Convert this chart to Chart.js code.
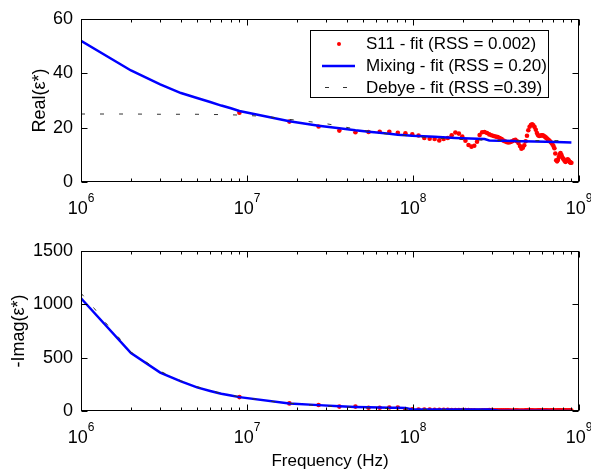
<!DOCTYPE html>
<html>
<head>
<meta charset="utf-8">
<script src="https://cdn.jsdelivr.net/npm/chart.js@4.4.0/dist/chart.umd.min.js"></script>
<style>
  html, body { margin: 0; padding: 0; background: #fff; }
  #wrap { position: relative; width: 591px; height: 474px; }
  canvas { position: absolute; left: 0; }
  #realChart { top: 0; }
  #imagChart { top: 232px; }
</style>
</head>
<body>
<div id="wrap">
  <canvas id="realChart" width="591" height="232"></canvas>
  <canvas id="imagChart" width="591" height="242"></canvas>
</div>
<script>
const FONT = '"Liberation Sans", Arial, sans-serif';

// measured S11 points, frequency in MHz
const s11FreqMHz = [9,18,27,36,45,54,63,72,81,90,99,108,117,126,135,144,153,162,171,180,
  189,198,207,216,225,234,243,252,261,270,279,288,297,306,315,324,333,342,351,360,
  369,378,387,396,405,414,423,432,441,450,459,468,477,486,495,504,513,522,531,540,
  549,558,567,576,585,594,603,612,621,630,639,648,657,666,675,684,693,702,711,720,
  729,738,747,756,765,774,783,792,801,810,819,828,837,846,855,864,873,882,891,900];
const s11Real = [25.5,22.2,20.4,18.9,18.3,18.4,18.5,18.5,18.1,17.9,17.5,17.1,16.2,15.9,15.8,15.3,15.8,16.2,17.2,18.2,
  17.8,16.7,15.2,13.6,13.0,13.3,14.8,17.3,18.3,18.4,18.0,17.5,17.2,16.9,16.7,16.5,16.2,15.8,15.2,14.9,
  14.6,14.5,14.7,15.0,15.3,15.5,15.0,14.3,13.2,12.2,12.6,13.5,15.0,17.0,19.0,20.3,20.9,21.2,20.8,20.2,
  19.2,18.0,17.2,16.9,17.0,17.2,17.2,17.0,16.7,16.4,16.1,15.7,15.4,15.1,14.7,14.3,13.8,13.2,12.4,10.5,
  8.0,7.6,8.2,9.2,10.2,10.6,10.0,9.2,8.6,8.3,7.8,7.4,7.6,8.0,8.3,8.1,7.6,7.3,7.1,7.1];
const s11Imag = [130,71,56,41,41,30,30,33,33,18,15,14,13,13,12,12,11,11,10,10,
  10,9,9,8,7,6,5,5,6,7,7,8,8,7,7,6,6,6,6,6,
  6,6,5,5,5,6,6,5,5,5,5,5,6,7,8,8,7,6,5,5,
  5,5,6,6,6,5,5,5,6,6,6,5,5,5,5,6,6,6,5,5,
  5,5,6,6,6,5,5,5,5,6,6,6,5,5,5,5,5,6,6,5];

// mixing model fit
const mixFreqMHz = [1,2,3,4,5,6,7,8,9,18,27,36,45,54,63,72,81,90,99,135,180,270,288,330,360,450,540,630,720,810,900];
const mixReal = [51.9,41.0,35.9,32.7,30.9,29.4,28.1,27.1,26.1,22.3,20.7,19.8,19.0,18.5,18.1,17.7,17.4,17.2,17.0,16.6,16.2,15.8,15.3,15.2,15.2,15.0,14.9,14.8,14.7,14.6,14.5];
const mixImag = [1056,542,359,277,221,188,162,145,130,71,55,45,38,34,32,31,30,29,15,14,14,13,13,3,3,2,2,2,1,1,1];

// Debye model fit
const debyeFreqMHz = [1,1.2,1.4,1.7,2,3,4,5,6,7,8,9,13,17,22,29,38,50,66,85,110,150,200,300,450,600,900];
const debyeReal = [25.0,25.0,25.0,25.0,25.0,24.9,24.9,24.9,24.8,24.8,24.7,24.6,24.1,23.2,22.4,21.6,20.3,19.0,17.8,17.2,16.6,16.0,15.6,15.3,15.2,15.2,15.2];
const debyeImag = [1103,962,830,683,551,372,282,228,192,165,147,133,95,76,60,47,38,30,24,20,16,12,9,6,4,3,2];

const xDecades = [6, 7, 8, 9];
const realTicks = [0, 20, 40, 60];
const imagTicks = [0, 500, 1000, 1500];
const legendLabels = ['S11 - fit (RSS = 0.002)', 'Mixing - fit (RSS = 0.20)', 'Debye - fit (RSS =0.39)'];

function toPoints(freqs, vals) {
    return freqs.map((f, i) => ({ x: f * 1e6, y: vals[i] }));
}

// matlab style box, inward ticks and 10^n labels
const framePlugin = {
    id: 'frame',
    afterDatasetsDraw(chart) {
        const { ctx, chartArea: a } = chart;
        const xs = chart.scales.x, ys = chart.scales.y;
        const L = Math.round(a.left) + 0.5, R = Math.round(a.right) - 0.5;
        const T = Math.round(a.top) + 0.5, B = Math.round(a.bottom) - 0.5;
        ctx.save();
        ctx.strokeStyle = '#000';
        ctx.lineWidth = 1;
        ctx.strokeRect(L, T, R - L, B - T);
        ctx.beginPath();
        for (let e = 6; e <= 9; e++) {
            for (let m = 1; m <= 9; m++) {
                const v = m * Math.pow(10, e);
                if (v > 1e9) break;
                const px = Math.round(xs.getPixelForValue(v)) + 0.5;
                const len = m === 1 ? 6 : 3;
                ctx.moveTo(px, B); ctx.lineTo(px, B - len);
                ctx.moveTo(px, T); ctx.lineTo(px, T + len);
            }
        }
        ys.ticks.forEach(t => {
            const py = Math.round(ys.getPixelForValue(t.value)) + 0.5;
            ctx.moveTo(L, py); ctx.lineTo(L + 6, py);
            ctx.moveTo(R, py); ctx.lineTo(R - 6, py);
        });
        ctx.stroke();

        ctx.fillStyle = '#000';
        ctx.textAlign = 'left';
        ctx.textBaseline = 'alphabetic';
        const base = a.bottom + 31.5;
        xDecades.forEach(e => {
            const px = xs.getPixelForValue(Math.pow(10, e));
            ctx.font = '18px ' + FONT;
            const wb = ctx.measureText('10').width;
            ctx.font = '12px ' + FONT;
            const we = ctx.measureText(String(e)).width;
            const x0 = px - (wb + we) / 2;
            ctx.font = '18px ' + FONT;
            ctx.fillText('10', x0, base);
            ctx.font = '12px ' + FONT;
            ctx.fillText(String(e), x0 + wb, base - 12);
        });
        ctx.restore();
    }
};

const legendPlugin = {
    id: 'boxLegend',
    afterDraw(chart) {
        const ctx = chart.ctx;
        ctx.save();
        ctx.fillStyle = '#fff';
        ctx.fillRect(310, 30, 239, 68);
        ctx.strokeStyle = '#000';
        ctx.lineWidth = 1;
        ctx.strokeRect(310.5, 30.5, 238, 67);

        // S11 dot
        ctx.fillStyle = '#ff0000';
        ctx.beginPath();
        ctx.arc(339, 44, 2, 0, Math.PI * 2);
        ctx.fill();
        // mixing line
        ctx.strokeStyle = '#0000ff';
        ctx.lineWidth = 2.5;
        ctx.beginPath();
        ctx.moveTo(322, 66); ctx.lineTo(355, 66);
        ctx.stroke();
        // debye dashes
        ctx.strokeStyle = '#333';
        ctx.lineWidth = 1;
        ctx.beginPath();
        ctx.moveTo(325, 87.5); ctx.lineTo(329, 87.5);
        ctx.moveTo(343, 87.5); ctx.lineTo(347, 87.5);
        ctx.stroke();

        ctx.fillStyle = '#000';
        ctx.font = '17px ' + FONT;
        ctx.textAlign = 'left';
        ctx.textBaseline = 'middle';
        ctx.fillText(legendLabels[0], 366, 44);
        ctx.fillText(legendLabels[1], 366, 66);
        ctx.fillText(legendLabels[2], 366, 88);
        ctx.restore();
    }
};

function buildChart(canvasId, s11Vals, mixVals, debyeVals, yTicks, yTitle, cfg) {
    const ctx = document.getElementById(canvasId);
    return new Chart(ctx, {
        type: 'scatter',
        data: {
            datasets: [{
                label: legendLabels[0],
                data: toPoints(s11FreqMHz, s11Vals),
                showLine: false,
                pointRadius: 2.3,
                pointBackgroundColor: '#ff0000',
                pointBorderWidth: 0,
                order: 3
            }, {
                label: legendLabels[1],
                data: toPoints(mixFreqMHz, mixVals),
                showLine: true,
                borderColor: '#0000ff',
                borderWidth: 2.5,
                pointRadius: 0,
                order: 2
            }, {
                label: legendLabels[2],
                data: toPoints(debyeFreqMHz, debyeVals),
                showLine: true,
                borderColor: '#333',
                borderWidth: 1,
                borderDash: [4, 15],
                pointRadius: 0,
                order: 1
            }]
        },
        options: {
            responsive: false,
            animation: false,
            layout: {
                padding: { left: 0, right: 12, top: cfg.padTop, bottom: 0 }
            },
            plugins: {
                legend: { display: false },
                tooltip: { enabled: false }
            },
            scales: {
                x: {
                    type: 'logarithmic',
                    min: 1e6,
                    max: 1e9,
                    ticks: { display: false },
                    grid: { display: false, drawTicks: false },
                    border: { display: false },
                    title: {
                        display: !!cfg.xTitle,
                        text: cfg.xTitle || '',
                        color: '#000',
                        font: { size: 17, family: FONT },
                        padding: { top: 0, bottom: 2 }
                    },
                    afterFit: function(scale) {
                        scale.height = cfg.xHeight;
                    }
                },
                y: {
                    min: yTicks[0],
                    max: yTicks[yTicks.length - 1],
                    ticks: {
                        stepSize: yTicks[1] - yTicks[0],
                        color: '#000',
                        padding: 8,
                        font: { size: 18, family: FONT },
                        callback: function(value) {
                            return String(value);
                        }
                    },
                    grid: { display: false, drawTicks: false },
                    border: { display: false },
                    title: {
                        display: true,
                        text: yTitle,
                        color: '#000',
                        font: { size: 18, family: FONT },
                        padding: { top: cfg.yTitlePad, bottom: 0 }
                    },
                    afterFit: function(scale) {
                        scale.width = 81;
                    }
                }
            }
        },
        plugins: cfg.legend ? [framePlugin, legendPlugin] : [framePlugin]
    });
}

buildChart('realChart', s11Real, mixReal, debyeReal, realTicks, 'Real(ε*)',
    { padTop: 13, xHeight: 50, yTitlePad: 29, legend: true });
buildChart('imagChart', s11Imag, mixImag, debyeImag, imagTicks, '-Imag(ε*)',
    { padTop: 9, xHeight: 63, yTitlePad: 8, xTitle: 'Frequency (Hz)', legend: false });
</script>
</body>
</html>
